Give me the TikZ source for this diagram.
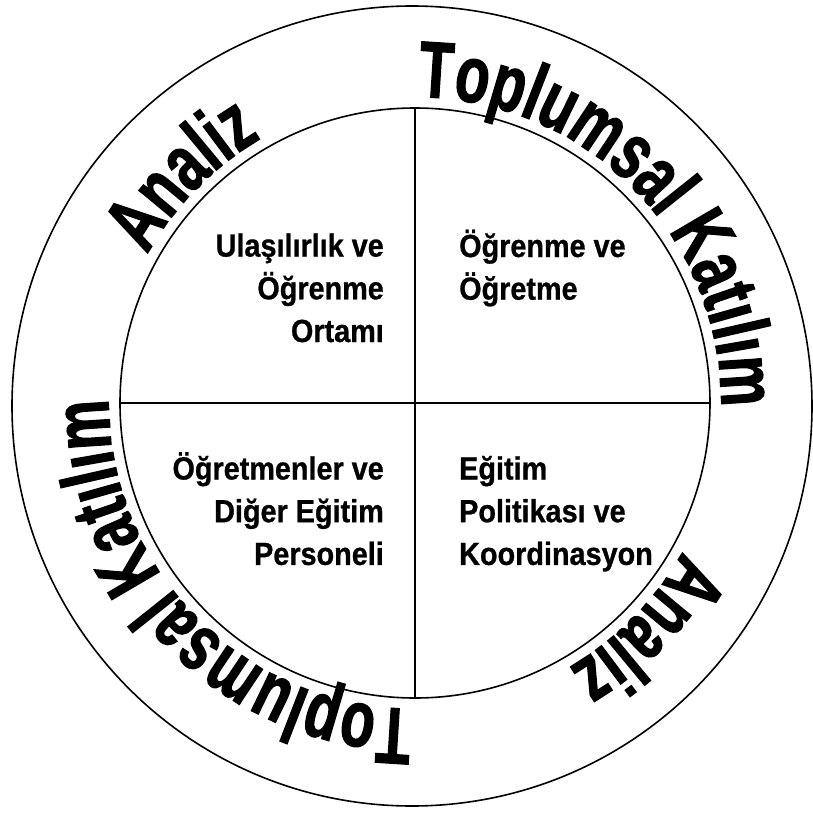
\documentclass[tikz,border=0pt]{standalone}
\usepackage{fontspec}
\setmainfont{Liberation Sans}
\newfontfamily\ringfont{Liberation Sans}[UprightFont=* Bold, FakeStretch=0.70, FakeBold=1.5]
\newfontfamily\quadfont{Liberation Sans}[UprightFont=* Bold, FakeStretch=0.90, FakeBold=0.8]
\usetikzlibrary{decorations.text}
\begin{document}
\begin{tikzpicture}[x=1pt,y=1pt,
  ring/.style={line width=1.6pt},
  cross/.style={line width=1.8pt},
  quad/.style={inner sep=0pt, font=\quadfont\fontsize{32}{42.7}\selectfont},
  ringtext/.style={decorate, decoration={text along path, text align=left,
    text={|\ringfont\fontsize{80}{90}\selectfont|#1}}}
]
\useasboundingbox (-415,-409) rectangle (398,403);
\node[circle, draw, ring, minimum size=800pt, inner sep=0pt] (outer) at (-3,-3) {};
\node[circle, draw, ring, minimum size=590pt, inner sep=0pt] (inner) at (0,0) {};
\draw[cross] (inner.north) -- (inner.south);
\draw[cross] (inner.west) -- (inner.east);

\path[ringtext={Toplumsal Katılım}] (89.5:306) arc[start angle=89.5, end angle=-40, radius=306];
\path[ringtext={Toplumsal Katılım}] (269.5:306) arc[start angle=269.5, end angle=140, radius=306];
\path[ringtext={Analiz}] (151:306) arc[start angle=151, end angle=95, radius=306];
\path[ringtext={Analiz}] (331:306) arc[start angle=331, end angle=275, radius=306];

\node[quad, anchor=base east] (q1) at (-31,146.4) {\begin{tabular}[t]{@{}r@{}}Ulaşılırlık ve\\Öğrenme\\Ortamı\end{tabular}};
\node[quad, anchor=base west] (q2) at (44,146) {\begin{tabular}[t]{@{}l@{}}Öğrenme ve\\Öğretme\end{tabular}};
\node[quad, anchor=base east] (q3) at (-31,-76.5) {\begin{tabular}[t]{@{}r@{}}Öğretmenler ve\\Diğer Eğitim\\Personeli\end{tabular}};
\node[quad, anchor=base west] (q4) at (44,-76.5) {\begin{tabular}[t]{@{}l@{}}Eğitim\\Politikası ve\\Koordinasyon\end{tabular}};
\end{tikzpicture}
\end{document}
